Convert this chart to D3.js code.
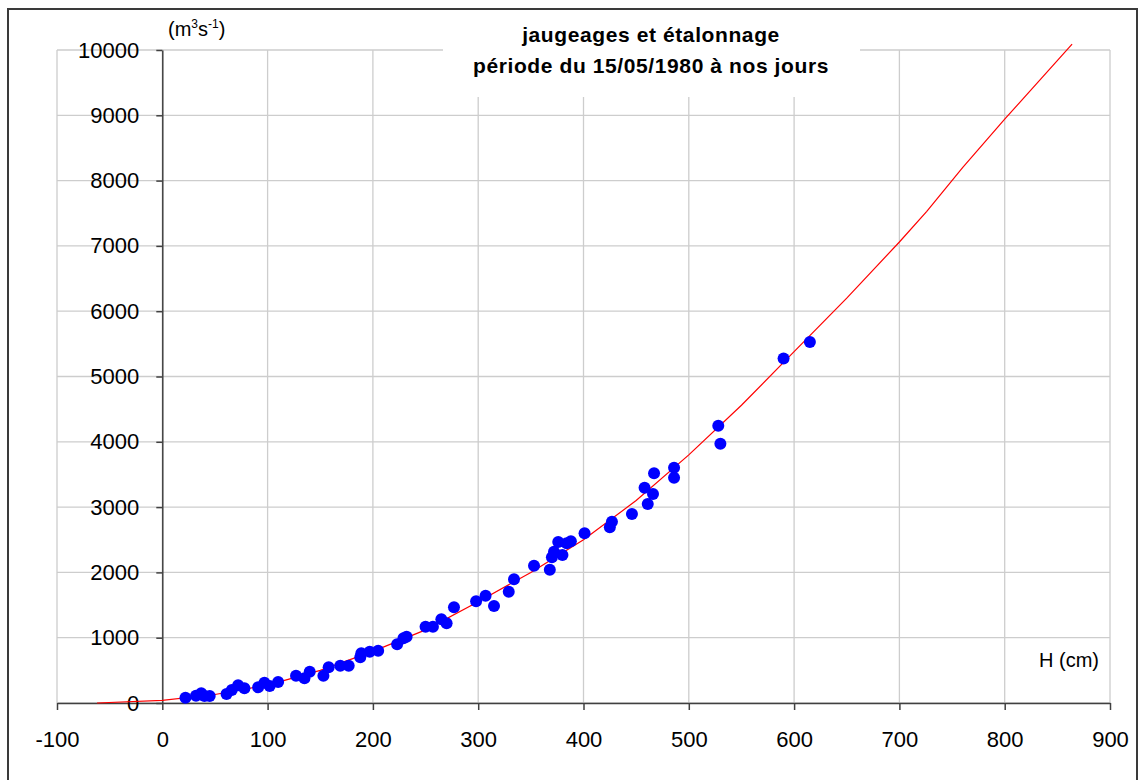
<!DOCTYPE html>
<html>
<head>
<meta charset="utf-8">
<script src="https://cdn.jsdelivr.net/npm/d3@7"></script>
<style>
  html, body { margin: 0; padding: 0; background: #fff; }
  svg { display: block; font-family: "Liberation Sans", Arial, sans-serif; }
</style>
</head>
<body>
<svg id="chart" width="1139" height="780"></svg>
<script>
// ---- data ----
const hTicks = [-100, 0, 100, 200, 300, 400, 500, 600, 700, 800, 900];
const qTicks = [0, 1000, 2000, 3000, 4000, 5000, 6000, 7000, 8000, 9000, 10000];

// jaugeages (gaugings): height H (cm), discharge Q (m3/s)
const gaugeH = [22, 32, 37, 40, 45, 61, 66, 72, 78, 91, 97, 102, 110, 127, 135, 140, 153, 158, 169, 177,
  188, 189, 197, 205, 223, 229, 232, 250, 257, 265, 270, 277, 298, 307, 315, 329, 334, 353, 368, 370,
  372, 376, 380, 384, 388, 401, 425, 427, 446, 458, 461, 466, 467, 486, 486, 528, 530, 590, 615];
const gaugeQ = [81, 112, 148, 107, 107, 138, 199, 271, 225, 240, 311, 260, 322, 418, 378, 480, 418, 547, 571, 571,
  700, 761, 785, 800, 899, 990, 1015, 1169, 1169, 1282, 1220, 1465, 1557, 1643, 1485, 1705, 1894, 2103, 2041, 2231,
  2317, 2466, 2267, 2446, 2476, 2598, 2690, 2777, 2894, 3297, 3047, 3200, 3517, 3604, 3450, 4247, 3971, 5277, 5527];

// étalonnage (rating curve)
const curveH = [-62, 0, 50, 100, 150, 200, 250, 300, 350, 400, 450, 500, 550, 600, 650, 700, 726, 760, 800, 864];
const curveQ = [0, 40, 130, 275, 500, 790, 1120, 1550, 2000, 2500, 3100, 3800, 4560, 5380, 6200, 7060, 7530, 8200, 8940, 10090];

const titleLines = ["jaugeages et étalonnage", "période du 15/05/1980 à nos jours"];

// ---- chart ----
const svg = d3.select("#chart");
const x = d3.scaleLinear().domain([-100, 900]).range([57, 1110]);
const y = d3.scaleLinear().domain([0, 10000]).range([703, 50]);

// outer frame
svg.append("rect").attr("x", 8).attr("y", 9).attr("width", 1129).attr("height", 790)
  .attr("fill", "#fff").attr("stroke", "#3a3a3a").attr("stroke-width", 2);

// grid
const grid = svg.append("g").attr("stroke", "#cdcdcd").attr("stroke-width", 1.3);
grid.selectAll("line.h").data(qTicks).join("line")
  .attr("x1", x(-100)).attr("x2", x(900)).attr("y1", d => y(d)).attr("y2", d => y(d));
grid.selectAll("line.v").data(hTicks).join("line")
  .attr("x1", d => x(d)).attr("x2", d => x(d)).attr("y1", y(10000)).attr("y2", y(0));

// title box
svg.append("rect").attr("x", 443).attr("y", 12).attr("width", 417).attr("height", 85).attr("fill", "#fff");
svg.append("g").selectAll("text").data(titleLines).join("text")
  .attr("x", 651).attr("y", (d, i) => 42 + i * 31)
  .attr("text-anchor", "middle").attr("font-size", 21).attr("font-weight", "bold")
  .attr("letter-spacing", 0.6).attr("fill", "#000").text(d => d);

// axes
const fmt = d => String(d);
const xAxis = svg.append("g").attr("transform", `translate(0,${y(0)})`)
  .call(d3.axisBottom(x).tickValues(hTicks).tickSize(7).tickSizeOuter(0).tickPadding(21).tickFormat(fmt));
const yAxis = svg.append("g").attr("transform", `translate(${x(0)},0)`)
  .call(d3.axisLeft(y).tickValues(qTicks).tickSize(6).tickSizeOuter(0).tickPadding(17).tickFormat(fmt));
[xAxis, yAxis].forEach(g => {
  g.selectAll("path.domain").attr("stroke", "#404040").attr("stroke-width", 1.5);
  g.selectAll(".tick line").attr("stroke", "#404040").attr("stroke-width", 1.5);
  g.selectAll(".tick text").attr("font-size", 22).attr("fill", "#000")
    .attr("font-family", "'Liberation Sans', Arial, sans-serif");
});

// rating curve
const curve = curveH.map((h, i) => [h, curveQ[i]]);
svg.append("path").datum(curve)
  .attr("fill", "none").attr("stroke", "#ff0000").attr("stroke-width", 1.2)
  .attr("d", d3.line().x(d => x(d[0])).y(d => y(d[1])));

// gaugings
svg.append("g").selectAll("circle").data(gaugeH.map((h, i) => [h, gaugeQ[i]])).join("circle")
  .attr("cx", d => x(d[0])).attr("cy", d => y(d[1])).attr("r", 6).attr("fill", "#0000ff");

// axis titles
const yt = svg.append("text").attr("x", 168).attr("y", 36).attr("font-size", 20).attr("fill", "#000");
yt.append("tspan").text("(m");
yt.append("tspan").attr("font-size", 12).attr("dy", -8).text("3");
yt.append("tspan").attr("dy", 8).text("s");
yt.append("tspan").attr("font-size", 12).attr("dy", -8).text("-1");
yt.append("tspan").attr("dy", 8).text(")");

svg.append("text").attr("x", 1099).attr("y", 667).attr("text-anchor", "end")
  .attr("font-size", 20).attr("fill", "#000").text("H (cm)");
</script>
</body>
</html>
